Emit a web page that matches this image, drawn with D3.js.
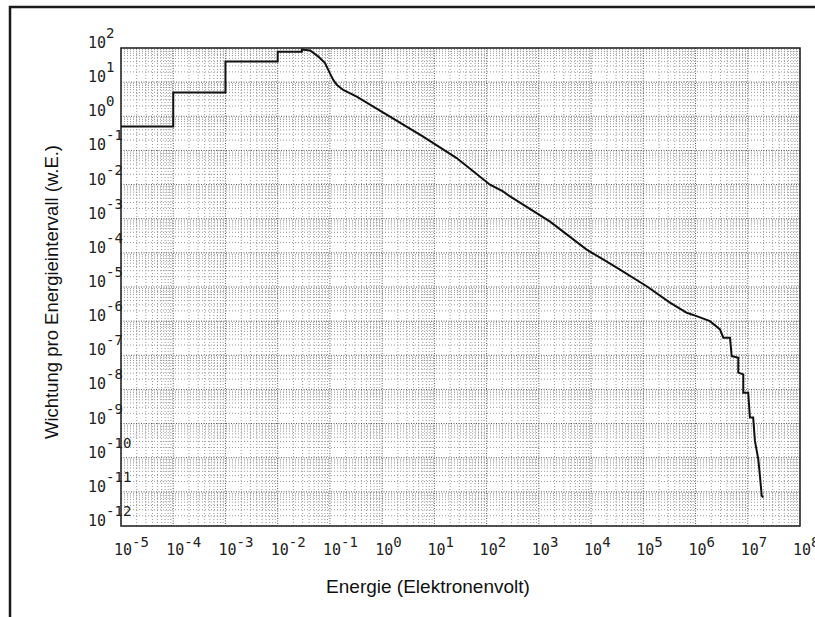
<!DOCTYPE html>
<html>
<head>
<meta charset="utf-8">
<script src="https://cdn.jsdelivr.net/npm/d3@7"></script>
<style>
  body { margin: 0; background: #fff; }
  svg { display: block; }
</style>
</head>
<body>
<div id="chart-area"></div>
<script>
// traced outline of the spectrum: energy (eV) and weight (w.E.)
const energies = [
  1e-5, 1e-4, 1e-4, 1e-3, 1e-3, 1e-2, 1e-2, 0.029, 0.029, 0.042,
  0.06, 0.0805, 0.1, 0.116, 0.135, 0.18, 0.326, 1.41, 6.1, 26.7,
  116, 206, 281, 1640, 8240, 1.7e4, 3.58e4, 1.16e5, 3.24e5, 6.8e5,
  1.05e6, 1.89e6, 2.94e6, 3.4e6, 4.57e6, 4.92e6, 6.58e6, 6.58e6, 8.2e6, 8.2e6,
  1.02e7, 1.1e7, 1.27e7, 1.37e7, 1.59e7, 1.71e7, 1.85e7, 1.98e7
]
const weights = [
  0.5, 0.5, 5, 5, 40, 40, 78, 78, 90, 85,
  56, 36, 18, 11.6, 8.3, 5.9, 3.77, 0.98, 0.255, 0.0597,
  0.0099, 0.0063, 0.0045, 8.2e-4, 1.24e-4, 6.4e-5, 3.24e-5, 1.05e-5, 3.5e-6, 1.76e-6,
  1.4e-6, 1.0e-6, 5.7e-7, 3.27e-7, 3.27e-7, 9.5e-8, 8.5e-8, 3.1e-8, 2.76e-8, 8.05e-9,
  8.05e-9, 1.5e-9, 1.5e-9, 3.1e-10, 9.1e-11, 2.95e-11, 7.7e-12, 6.9e-12
]

// decade exponents for the tick labels
const xTickExps = [-5, -4, -3, -2, -1, 0, 1, 2, 3, 4, 5, 6, 7, 8]
const yTickExps = [2, 1, 0, -1, -2, -3, -4, -5, -6, -7, -8, -9, -10, -11, -12]

const W = 815, H = 617
const PLOT = { LEFT: 121, RIGHT: 800, TOP: 48, BOTTOM: 526 }

const svg = d3.select("#chart-area").append("svg")
  .attr("width", W)
  .attr("height", H)

svg.append("rect").attr("width", W).attr("height", H).attr("fill", "#fff")

// outer frame (top and left edge of the scan)
svg.append("path")
  .attr("d", `M10,${H} L10,7 L${W},7`)
  .attr("fill", "none")
  .attr("stroke", "#1a1a1a")
  .attr("stroke-width", 2.5)

const x = d3.scaleLog()
  .domain([1e-5, 1e8])
  .range([PLOT.LEFT, PLOT.RIGHT])

const y = d3.scaleLog()
  .domain([1e-12, 1e2])
  .range([PLOT.BOTTOM, PLOT.TOP])

// grid: minor lines 2..9 in every decade, then decade lines
const xMinor = [], yMinor = []
d3.range(-5, 8).forEach(e => d3.range(2, 10).forEach(m => xMinor.push(m * Math.pow(10, e))))
d3.range(-12, 2).forEach(e => d3.range(2, 10).forEach(m => yMinor.push(m * Math.pow(10, e))))

const grid = svg.append("g").attr("class", "grid")

grid.selectAll(".vminor").data(xMinor).enter().append("line")
  .attr("x1", d => x(d)).attr("x2", d => x(d))
  .attr("y1", PLOT.TOP).attr("y2", PLOT.BOTTOM)
  .attr("stroke", "#9a9a9a")
  .attr("stroke-dasharray", "1,2")

grid.selectAll(".hminor").data(yMinor).enter().append("line")
  .attr("x1", PLOT.LEFT).attr("x2", PLOT.RIGHT)
  .attr("y1", d => y(d)).attr("y2", d => y(d))
  .attr("stroke", "#9a9a9a")
  .attr("stroke-dasharray", "1,2")

grid.selectAll(".vmajor").data(xTickExps).enter().append("line")
  .attr("x1", d => x(Math.pow(10, d))).attr("x2", d => x(Math.pow(10, d)))
  .attr("y1", PLOT.TOP).attr("y2", PLOT.BOTTOM)
  .attr("stroke", "#555")
  .attr("stroke-dasharray", "1,1.5")

grid.selectAll(".hmajor").data(yTickExps).enter().append("line")
  .attr("x1", PLOT.LEFT).attr("x2", PLOT.RIGHT)
  .attr("y1", d => y(Math.pow(10, d))).attr("y2", d => y(Math.pow(10, d)))
  .attr("stroke", "#555")
  .attr("stroke-dasharray", "1,1.5")

// plot border
svg.append("rect")
  .attr("x", PLOT.LEFT).attr("y", PLOT.TOP)
  .attr("width", PLOT.RIGHT - PLOT.LEFT)
  .attr("height", PLOT.BOTTOM - PLOT.TOP)
  .attr("fill", "none")
  .attr("stroke", "#222")
  .attr("stroke-width", 1.5)

// the spectrum
const pts = energies.map((e, i) => [e, weights[i]])
const line = d3.line()
  .x(d => x(d[0]))
  .y(d => y(d[1]))

svg.append("path")
  .datum(pts)
  .attr("d", line)
  .attr("fill", "none")
  .attr("stroke", "#111")
  .attr("stroke-width", 2)
  .attr("stroke-linejoin", "miter")

// tick labels in the plotter style: "10" with a raised exponent
const tickFont = "'DejaVu Sans Mono', 'Liberation Mono', monospace"

const xLabels = svg.append("g").selectAll("text")
  .data(xTickExps).enter().append("text")
  .attr("x", d => x(Math.pow(10, d)) - 7)
  .attr("y", 555)
  .attr("font-family", tickFont)
  .attr("font-size", "15px")
  .attr("fill", "#222")
xLabels.append("tspan").text("10")
xLabels.append("tspan").attr("dy", -8).attr("font-size", "14px").text(d => String(d))

const yLabels = svg.append("g").selectAll("text")
  .data(yTickExps).enter().append("text")
  .attr("x", 88)
  .attr("y", d => y(Math.pow(10, d)))
  .attr("font-family", tickFont)
  .attr("font-size", "15px")
  .attr("fill", "#222")
yLabels.append("tspan").text("10")
yLabels.append("tspan").attr("dy", -10).attr("font-size", "14px").text(d => String(d))

// axis titles
svg.append("text")
  .attr("x", 428)
  .attr("y", 593)
  .attr("text-anchor", "middle")
  .attr("font-family", "'Liberation Sans', Arial, sans-serif")
  .attr("font-size", "19px")
  .attr("fill", "#111")
  .text("Energie (Elektronenvolt)")

svg.append("text")
  .attr("transform", "translate(58, 292) rotate(-90)")
  .attr("text-anchor", "middle")
  .attr("font-family", "'Liberation Sans', Arial, sans-serif")
  .attr("font-size", "18.5px")
  .attr("fill", "#111")
  .text("Wichtung pro Energieintervall (w.E.)")
</script>
</body>
</html>
